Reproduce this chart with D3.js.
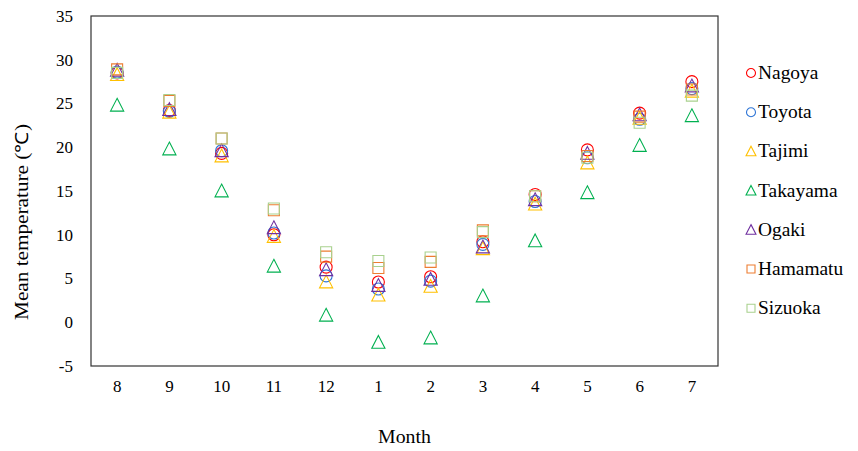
<!DOCTYPE html>
<html>
<head>
<meta charset="utf-8">
<script src="https://cdn.jsdelivr.net/npm/d3@7"></script>
<style>
  body { margin: 0; background: #fff; }
  svg text { font-family: "Liberation Serif", "Times New Roman", serif; fill: #000; }
</style>
</head>
<body>
<svg id="chart" width="858" height="451"></svg>
<script>
// Monthly mean temperature (°C), August through July
const months = ["8", "9", "10", "11", "12", "1", "2", "3", "4", "5", "6", "7"];
const yTicks = [-5, 0, 5, 10, 15, 20, 25, 30, 35];

const nagoya   = [28.5, 24.2, 19.3, 10.0, 6.3, 4.6, 5.2, 9.2, 14.6, 19.7, 23.9, 27.5];
const toyota   = [28.6, 24.1, 19.6, 10.2, 5.3, 3.8, 4.7, 8.9, 13.8, 18.8, 23.2, 26.7];
const tajimi   = [28.3, 24.0, 19.0,  9.8, 4.6, 3.1, 4.1, 8.4, 13.5, 18.2, 23.3, 26.4];
const takayama = [24.8, 19.8, 15.0,  6.4, 0.8, -2.3, -1.8, 3.0, 9.3, 14.8, 20.2, 23.6];
const ogaki    = [28.8, 24.3, 19.6, 10.8, 6.0, 4.2, 4.9, 8.6, 14.0, 19.3, 23.7, 27.0];
const hamamatu = [28.9, 25.3, 21.0, 12.8, 7.5, 6.2, 6.9, 10.5, 14.4, 19.0, 23.5, 26.6];
const sizuoka  = [28.5, 25.4, 21.0, 13.0, 8.0, 7.0, 7.4, 10.3, 14.4, 18.8, 22.8, 25.9];

const series = [
  { name: "Nagoya",   values: nagoya,   color: "#ff0000", shape: "circle" },
  { name: "Toyota",   values: toyota,   color: "#2e75d6", shape: "circle" },
  { name: "Tajimi",   values: tajimi,   color: "#ffc000", shape: "triangle" },
  { name: "Takayama", values: takayama, color: "#00b050", shape: "triangle" },
  { name: "Ogaki",    values: ogaki,    color: "#7030a0", shape: "triangle" },
  { name: "Hamamatu", values: hamamatu, color: "#ed7d31", shape: "square" },
  { name: "Sizuoka",  values: sizuoka,  color: "#a9d18e", shape: "square" }
];

const svg = d3.select("#chart");
const plot = { left: 91, top: 16, right: 718, bottom: 366 };

const x = d3.scaleBand().domain(months).range([plot.left, plot.right]);
const y = d3.scaleLinear().domain([-5, 35]).range([plot.bottom, plot.top]);

// Marker path for a given shape and size
function markerPath(shape, r) {
  if (shape === "circle") {
    const p = d3.path();
    p.moveTo(r, 0);
    p.arc(0, 0, r, 0, 2 * Math.PI);
    p.closePath();
    return p.toString();
  }
  if (shape === "square") {
    return `M${-r},${-r}H${r}V${r}H${-r}Z`;
  }
  // triangle pointing up
  const h = r * 1.15;
  return `M0,${-h}L${r * 1.1},${h * 0.85}L${-r * 1.1},${h * 0.85}Z`;
}

// Plot frame
svg.append("rect")
  .attr("x", plot.left).attr("y", plot.top)
  .attr("width", plot.right - plot.left).attr("height", plot.bottom - plot.top)
  .attr("fill", "none").attr("stroke", "#333").attr("stroke-width", 1.2);

// Y axis labels (plain hyphen for negatives)
const yAxis = d3.axisLeft(y).tickValues(yTicks).tickSize(0).tickPadding(18)
  .tickFormat(d => String(d));
const gy = svg.append("g").attr("transform", `translate(${plot.left},0)`).call(yAxis);
gy.select(".domain").remove();
gy.selectAll("text").style("font-size", "17px").style("font-family", "Liberation Serif, serif");

// X axis labels
const xAxis = d3.axisBottom(x).tickSize(0).tickPadding(14);
const gx = svg.append("g").attr("transform", `translate(0,${plot.bottom})`).call(xAxis);
gx.select(".domain").remove();
gx.selectAll("text").style("font-size", "17px").style("font-family", "Liberation Serif, serif");

// Axis titles
svg.append("text")
  .attr("transform", `translate(28,222) rotate(-90) scale(1.18,1)`)
  .attr("text-anchor", "middle")
  .style("font-size", "18px")
  .text("Mean temperature (℃)");

svg.append("text")
  .attr("transform", `translate(${(plot.left + plot.right) / 2},443) scale(1.1,1)`)
  .attr("text-anchor", "middle")
  .style("font-size", "18px")
  .text("Month");

// Data markers
series.forEach(s => {
  svg.append("g")
    .selectAll("path")
    .data(s.values.map((v, i) => ({ m: months[i], v })))
    .join("path")
    .attr("transform", d => `translate(${x(d.m) + x.bandwidth() / 2},${y(d.v)})`)
    .attr("d", markerPath(s.shape, s.shape === "square" ? 5.5 : 6))
    .attr("fill", "none")
    .attr("stroke", s.color)
    .attr("stroke-width", 1.1);
});

// Legend
const legend = svg.append("g").attr("transform", "translate(751,73)");
series.forEach((s, i) => {
  const row = legend.append("g").attr("transform", `translate(0,${i * 39.2})`);
  row.append("path")
    .attr("d", markerPath(s.shape, s.shape === "square" ? 4 : 4.5))
    .attr("fill", "none")
    .attr("stroke", s.color)
    .attr("stroke-width", 1.1);
  row.append("text")
    .attr("transform", "translate(7,6) scale(1.08,1)")
    .style("font-size", "18px")
    .text(s.name);
});
</script>
</body>
</html>
